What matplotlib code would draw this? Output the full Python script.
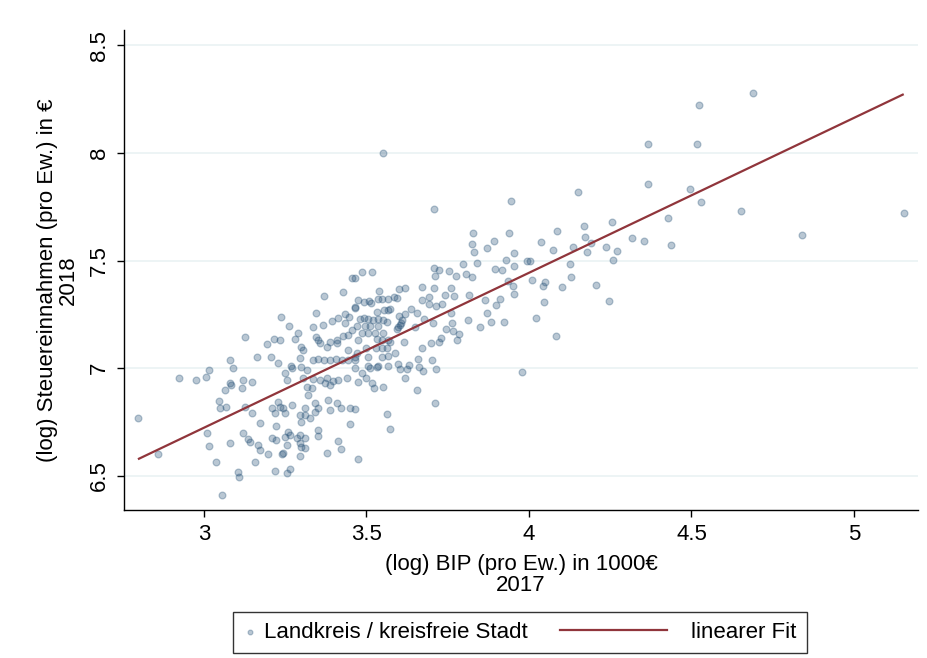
import matplotlib
matplotlib.use("Agg")
import matplotlib.pyplot as plt
from matplotlib.lines import Line2D
from matplotlib.legend_handler import HandlerLine2D

plt.rcParams['font.family'] = ['Liberation Sans', 'DejaVu Sans']

# (log) BIP pro Ew. 2017 / (log) Steuereinnahmen pro Ew. 2018
bip_2017 = [
    4.688, 4.524, 4.365, 4.516, 4.150, 4.366, 4.494, 4.530, 4.653, 5.153,
    4.841, 4.429, 4.437, 4.316, 4.353, 4.256, 4.168, 4.173, 4.191, 4.134,
    4.178, 4.236, 4.272, 4.259, 4.086, 4.038, 4.074, 4.126, 4.128, 4.206,
    4.246, 4.010, 4.049, 4.042, 4.103, 4.046, 4.022, 4.084, 4.003,
    3.709, 3.945, 3.829, 3.938, 3.825, 3.891, 3.872, 3.831, 3.953, 3.929,
    3.995, 3.955, 3.796, 3.840, 3.707, 3.723, 3.754, 3.897, 3.918, 3.711,
    3.776, 3.806, 3.824, 3.936, 3.951, 3.954, 3.911, 3.898, 3.870, 3.882,
    3.924, 3.849, 3.811, 3.864, 3.815, 3.760, 3.742, 3.770, 3.672, 3.707,
    3.618, 3.599, 3.692, 3.670, 3.586, 3.593, 3.732, 3.714, 3.692, 3.636,
    3.572, 3.655, 3.601, 3.618, 3.610, 3.606, 3.603, 3.598, 3.595, 3.761,
    3.677, 3.706, 3.763, 3.649, 3.765, 3.784, 3.745, 3.729, 3.723, 3.698,
    3.779, 3.671, 3.617, 3.572, 3.587, 3.660, 3.702, 3.596, 3.632, 3.662,
    3.604, 3.624, 3.675, 3.715, 3.618, 3.654, 3.980, 3.712, 3.551,
    3.487, 3.516, 3.465, 3.538, 3.493, 3.508, 3.514, 3.475, 3.534, 3.549,
    3.567, 3.465, 3.555, 3.567, 3.531, 3.480, 3.493, 3.505, 3.521, 3.536,
    3.552, 3.562, 3.470, 3.495, 3.511, 3.534, 3.485, 3.506, 3.526, 3.552,
    3.475, 3.531, 3.547, 3.567, 3.500, 3.528, 3.547, 3.562, 3.465, 3.506,
    3.547, 3.567, 3.506, 3.536, 3.567,
    3.465, 3.487, 3.500, 3.511, 3.531, 3.475, 3.516, 3.524, 3.552, 3.562,
    3.572, 3.475, 3.465,
    3.456, 3.369, 3.428, 3.466, 3.344, 3.236, 3.434, 3.446, 3.413, 3.393,
    3.367, 3.336, 3.262, 3.290, 3.280, 3.434, 3.454, 3.443, 3.428, 3.408,
    3.345, 3.352, 3.357, 3.378, 3.388, 3.408, 3.126, 3.193, 3.215, 3.234,
    3.298, 3.306, 3.162, 3.205, 3.229, 3.268, 3.295, 3.298, 3.336, 3.352,
    3.370, 3.388, 3.406, 3.426, 3.444, 3.465, 3.444, 3.470, 3.080, 3.090,
    3.121, 3.147, 3.116, 3.080, 3.249, 3.270, 3.316, 3.254, 3.305, 3.336,
    3.357, 3.378, 3.398, 3.372, 3.388, 3.413, 3.439, 3.316, 3.331, 3.321,
    3.126, 3.147, 3.208, 3.218, 3.229, 3.234, 3.244, 3.249, 3.270, 3.311,
    3.342, 3.352, 3.342, 3.382, 3.388, 3.408, 3.423, 3.449, 3.295, 3.311,
    3.326, 3.300, 3.172, 3.223, 3.121, 3.136, 3.141, 3.167, 3.172, 3.198,
    3.157, 3.080, 3.208, 3.223, 3.249, 3.259, 3.265, 3.285, 3.295, 3.311,
    3.295, 3.300, 3.311, 3.352, 3.352, 3.254, 3.239, 3.242, 3.295, 3.378,
    3.413, 3.423, 3.449, 3.218, 3.254, 3.265, 3.106, 3.109,
    2.798, 2.859, 2.923, 2.977, 3.006, 3.016, 3.065, 3.083, 3.046, 3.049,
    3.068, 3.008, 3.016, 3.036, 3.057,
]
steuer_2018 = [
    8.276, 8.220, 8.040, 8.040, 7.820, 7.855, 7.830, 7.770, 7.730, 7.720,
    7.617, 7.696, 7.572, 7.603, 7.592, 7.680, 7.661, 7.608, 7.580, 7.561,
    7.541, 7.561, 7.545, 7.502, 7.635, 7.586, 7.547, 7.482, 7.425, 7.388,
    7.312, 7.409, 7.400, 7.382, 7.376, 7.309, 7.235, 7.150, 7.498,
    7.739, 7.777, 7.629, 7.626, 7.577, 7.589, 7.557, 7.539, 7.536, 7.501,
    7.498, 7.474, 7.485, 7.487, 7.465, 7.456, 7.453, 7.461, 7.456, 7.430,
    7.430, 7.439, 7.425, 7.406, 7.382, 7.346, 7.321, 7.294, 7.255, 7.213,
    7.216, 7.191, 7.224, 7.317, 7.340, 7.372, 7.340, 7.335, 7.377, 7.371,
    7.374, 7.366, 7.332, 7.317, 7.332, 7.325, 7.298, 7.289, 7.297, 7.275,
    7.273, 7.255, 7.242, 7.250, 7.225, 7.212, 7.200, 7.190, 7.180, 7.258,
    7.229, 7.209, 7.211, 7.191, 7.174, 7.160, 7.182, 7.140, 7.120, 7.117,
    7.130, 7.095, 7.120, 7.120, 7.069, 7.043, 7.038, 7.018, 7.015, 7.007,
    6.995, 6.995, 6.989, 6.995, 6.956, 6.899, 6.983, 6.839, 7.999,
    7.448, 7.448, 7.417, 7.358, 7.306, 7.314, 7.301, 7.317, 7.320, 7.320,
    7.320, 7.286, 7.270, 7.270, 7.263, 7.230, 7.232, 7.228, 7.224, 7.230,
    7.224, 7.216, 7.196, 7.198, 7.194, 7.196, 7.162, 7.162, 7.162, 7.164,
    7.133, 7.135, 7.131, 7.133, 7.094, 7.094, 7.096, 7.092, 7.054, 7.054,
    7.054, 7.056, 7.012, 7.012, 7.012,
    7.000, 6.977, 6.956, 7.000, 7.007, 6.938, 6.930, 6.910, 6.915, 6.786,
    6.718, 6.579, 6.811,
    7.417, 7.335, 7.352, 7.278, 7.255, 7.236, 7.252, 7.239, 7.232, 7.219,
    7.201, 7.193, 7.196, 7.165, 7.136, 7.208, 7.177, 7.154, 7.150, 7.131,
    7.144, 7.131, 7.119, 7.097, 7.123, 7.119, 7.146, 7.113, 7.134, 7.131,
    7.100, 7.085, 7.054, 7.054, 7.023, 7.011, 7.046, 7.007, 7.040, 7.042,
    7.036, 7.040, 7.042, 7.038, 7.040, 7.036, 7.085, 7.072, 7.038, 7.000,
    6.945, 6.938, 6.910, 6.930, 6.977, 7.000, 6.992, 6.945, 6.953, 6.950,
    6.945, 6.953, 6.941, 6.930, 6.922, 6.945, 6.953, 6.915, 6.910, 6.876,
    6.822, 6.791, 6.814, 6.791, 6.845, 6.822, 6.814, 6.791, 6.829, 6.814,
    6.837, 6.814, 6.798, 6.853, 6.806, 6.837, 6.814, 6.814, 6.783, 6.783,
    6.768, 6.752, 6.745, 6.734, 6.698, 6.672, 6.656, 6.644, 6.621, 6.601,
    6.566, 6.652, 6.675, 6.667, 6.682, 6.706, 6.690, 6.678, 6.690, 6.675,
    6.652, 6.636, 6.629, 6.713, 6.687, 6.644, 6.601, 6.605, 6.594, 6.608,
    6.662, 6.625, 6.740, 6.523, 6.512, 6.532, 6.520, 6.497,
    6.768, 6.602, 6.956, 6.945, 6.961, 6.992, 6.899, 6.922, 6.849, 6.814,
    6.819, 6.698, 6.641, 6.566, 6.412,
]

# linearer Fit, endpoints
fit_x = [2.80, 5.15]
fit_y = [6.58, 8.27]

x_ticks = [3, 3.5, 4, 4.5, 5]
x_ticklabels = ['3', '3.5', '4', '4.5', '5']
y_ticks = [6.5, 7, 7.5, 8, 8.5]
y_ticklabels = ['6.5', '7', '7.5', '8', '8.5']

FS = 16


class LongLine(HandlerLine2D):
    # long line sample that sits left of its (short) handle box
    def create_artists(self, legend, orig_handle, xdescent, ydescent,
                       width, height, fontsize, trans):
        length = 4.8 * fontsize
        gap = 0.75 * fontsize
        shift = length - width + gap
        return super().create_artists(legend, orig_handle, xdescent + shift,
                                      ydescent, length, height, fontsize, trans)


fig = plt.figure(figsize=(9.27, 6.58), dpi=100)
ax = fig.add_axes([124 / 927, 1 - 510 / 658, 794 / 927, 480 / 658])

for y in y_ticks:
    ax.axhline(y, color='#eaf2f3', lw=1.2, zorder=0)

sc = ax.scatter(bip_2017, steuer_2018, s=24, color='#1a476f', alpha=0.3,
                edgecolors='#1a476f', linewidths=0.9, zorder=2,
                label='Landkreis / kreisfreie Stadt')
fit, = ax.plot(fit_x, fit_y, color='#90353b', lw=1.6, zorder=3, label='linearer Fit')

ax.set_xlim(2.754, 5.197)
ax.set_ylim(6.342, 8.57)
ax.set_xticks(x_ticks)
ax.set_xticklabels(x_ticklabels)
ax.set_yticks(y_ticks)
ax.set_yticklabels(y_ticklabels, rotation=90, va='center')
ax.tick_params(axis='both', labelsize=FS, length=5, width=1, pad=5, color='black')

for side in ['top', 'right']:
    ax.spines[side].set_visible(False)
for side in ['left', 'bottom']:
    ax.spines[side].set_linewidth(1)
    ax.spines[side].set_color('black')

ax.set_xlabel('(log) BIP (pro Ew.) in 1000€\n2017', fontsize=FS, va='center',
              linespacing=1.0)
ax.xaxis.set_label_coords(0.5, -0.135)
ax.set_ylabel('(log) Steuereinnahmen (pro Ew.) in €\n2018', fontsize=FS, va='center',
              linespacing=1.0)
ax.yaxis.set_label_coords(-0.083, 0.479)

leg = fig.legend(handles=[sc, fit], loc='center', bbox_to_anchor=(0.561, 0.0395),
                 ncol=2, fontsize=FS, frameon=True, fancybox=False, edgecolor='black',
                 handlelength=0.6, handletextpad=0.35, columnspacing=6.4,
                 borderpad=0.45, scatterpoints=1, markerscale=0.7,
                 handler_map={Line2D: LongLine()})
leg.get_frame().set_linewidth(1)

fig.savefig('out.png', dpi=100, facecolor='white')
